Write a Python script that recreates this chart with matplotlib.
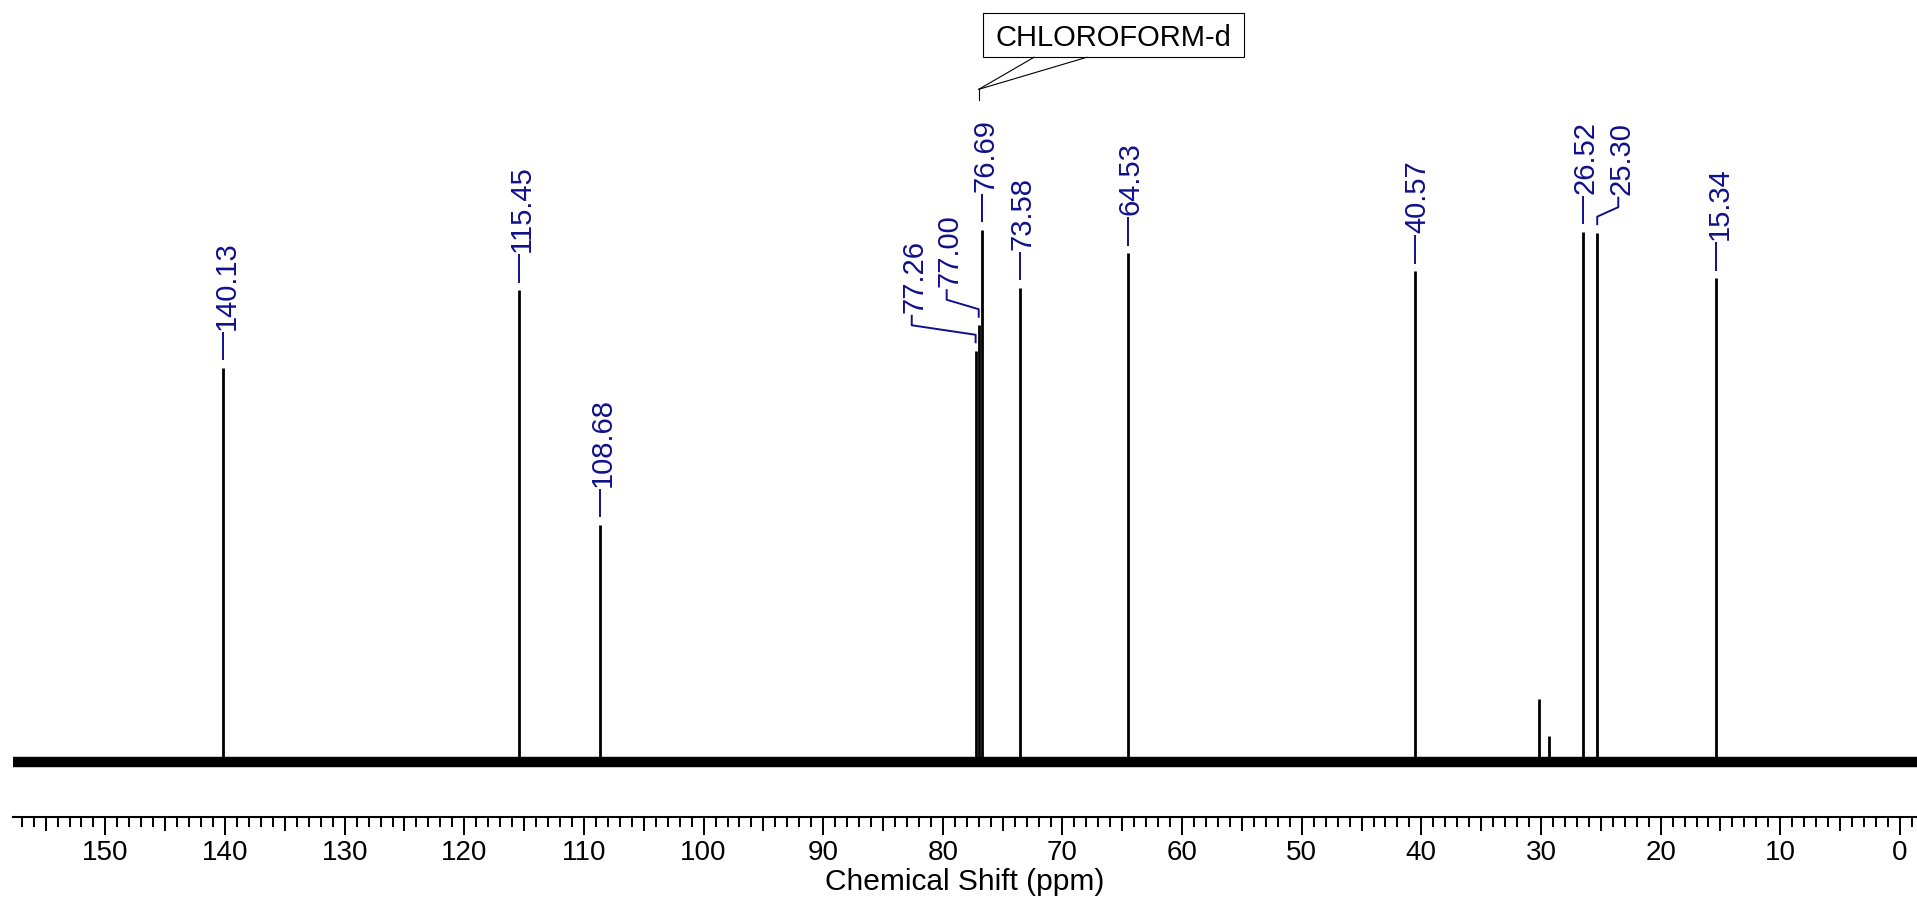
import matplotlib
matplotlib.use("Agg")
import matplotlib.pyplot as plt
from matplotlib.ticker import MultipleLocator, NullLocator
from matplotlib.patches import Rectangle

# ---------------- data ----------------
peak_ppm = [140.13, 115.45, 108.68, 77.26, 77.00, 76.69, 73.58, 64.53, 40.57, 26.52, 25.30, 15.34]
peak_height = [74.1, 88.7, 44.6, 77.3, 82.1, 100.0, 89.1, 95.6, 92.2, 99.7, 99.5, 90.9]
peak_labels = ["140.13", "115.45", "108.68", "77.26", "77.00", "76.69", "73.58",
               "64.53", "40.57", "26.52", "25.30", "15.34"]
small_ppm = [30.20, 29.34]
small_height = [11.8, 4.8]
spectrum_range = [157.8, -1.5]
solvent_label = "CHLOROFORM-d"
solvent_ppm = 77.00
x_label = "Chemical Shift (ppm)"

# ---------------- layout ----------------
W, H, DPI = 1917, 906, 100
FONT = ["Liberation Sans", "Arial", "DejaVu Sans"]
BLUE = "#10108C"
XLIM = (157.7, -1.43)
YLIM = (-10.39, 143.23)
AX_LEFT_PX, AX_BOTTOM_PX = 13.3, 817.3
# labels whose text is shifted sideways (text x position in ppm)
label_text_x = {"77.26": 82.60, "77.00": 79.68, "25.30": 23.54}

plt.rcParams["font.family"] = FONT
fig = plt.figure(figsize=(W / DPI, H / DPI), dpi=DPI)
ax = fig.add_axes([AX_LEFT_PX / W, (H - AX_BOTTOM_PX) / H,
                   1 - AX_LEFT_PX / W, AX_BOTTOM_PX / H])
ax.set_xlim(*XLIM)
ax.set_ylim(*YLIM)
units_per_px = (YLIM[1] - YLIM[0]) / AX_BOTTOM_PX


def up(h, dpx):
    return h + dpx * units_per_px


# baseline (noise band) and peaks
ax.plot(spectrum_range, [0, 0], color="black", lw=7.5, solid_capstyle="butt", zorder=2)
ax.vlines(peak_ppm, 0, peak_height, colors="black", lw=2.0, capstyle="butt", zorder=3)
ax.vlines(small_ppm, 0, small_height, colors="black", lw=2.0, capstyle="butt", zorder=3)

# peak labels with leader lines
for p, h, lab in zip(peak_ppm, peak_height, peak_labels):
    tx = label_text_x.get(lab, p)
    xs = [p, p, tx, tx]
    ys = [up(h, 7.5), up(h, 16), up(h, 25.5), up(h, 36)]
    ax.plot(xs, ys, color=BLUE, lw=1.4, solid_capstyle="butt", zorder=4)
    ax.text(tx, up(h, 38), lab, rotation=90, rotation_mode="anchor",
            ha="left", va="center_baseline", fontsize=21, color=BLUE, zorder=5)

# solvent annotation box
box_x0, box_x1 = 76.67, 54.82
box_y0, box_y1 = 132.46, 140.72
ax.add_patch(Rectangle((box_x0, box_y0), box_x1 - box_x0, box_y1 - box_y0,
                       fill=False, edgecolor="black", lw=0.8, zorder=5))
ax.text((box_x0 + box_x1) / 2, (box_y0 + box_y1) / 2, solvent_label,
        ha="center", va="center_baseline", fontsize=21, color="black", zorder=6)
apex_y = 126.44
ax.plot([solvent_ppm, solvent_ppm], [124.43, apex_y], color="black", lw=0.8)
ax.plot([solvent_ppm, 72.38], [apex_y, box_y0], color="black", lw=0.8)
ax.plot([solvent_ppm, 67.97], [apex_y, box_y0], color="black", lw=0.8)

# axes styling
for s in ["top", "left", "right"]:
    ax.spines[s].set_visible(False)
ax.spines["bottom"].set_linewidth(1.5)
ax.set_yticks([])
ax.xaxis.set_major_locator(MultipleLocator(10))
ax.xaxis.set_minor_locator(MultipleLocator(1))
ax.tick_params(axis="x", which="major", length=12.8, width=1.4, pad=3.5, labelsize=20)
ax.tick_params(axis="x", which="minor", length=7.2, width=1.4)
ax.set_xlabel(x_label, fontsize=21.5, labelpad=1.5)

# medium ticks at every 5 ppm
ax2 = ax.twiny()
ax2.set_xlim(*XLIM)
ax2.xaxis.set_ticks_position("bottom")
ax2.xaxis.set_major_locator(MultipleLocator(10, offset=5))
ax2.xaxis.set_minor_locator(NullLocator())
ax2.tick_params(axis="x", which="major", length=10.3, width=1.4,
                labelbottom=False, labeltop=False)
ax2.set_yticks([])
for s in ax2.spines.values():
    s.set_visible(False)

fig.savefig("out.png", dpi=DPI)
